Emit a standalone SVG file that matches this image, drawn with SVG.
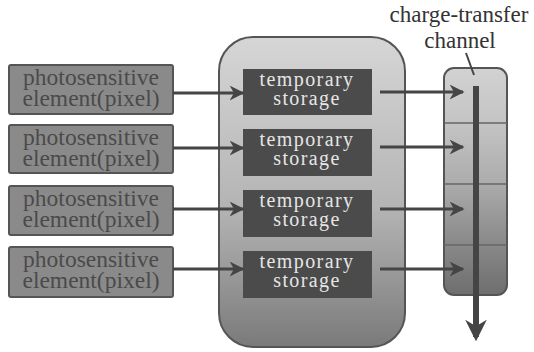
<svg xmlns="http://www.w3.org/2000/svg" width="534" height="352" viewBox="0 0 534 352">
<defs>
<linearGradient id="gBig" x1="0" y1="0" x2="0" y2="1">
<stop offset="0" stop-color="#d6d6d6"/>
<stop offset="0.55" stop-color="#b4b4b4"/>
<stop offset="0.85" stop-color="#8e8e8e"/>
<stop offset="1" stop-color="#7a7a7a"/>
</linearGradient>
<linearGradient id="gCh" x1="0" y1="0" x2="0" y2="1">
<stop offset="0" stop-color="#d2d2d2"/>
<stop offset="0.24" stop-color="#c4c4c4"/>
<stop offset="0.5" stop-color="#adadad"/>
<stop offset="0.75" stop-color="#8c8c8c"/>
<stop offset="1" stop-color="#6e6e6e"/>
</linearGradient>
<marker id="ah" viewBox="0 0 10 10" refX="9" refY="5" markerWidth="5" markerHeight="5" orient="auto" markerUnits="strokeWidth">
<path d="M0,0 L10,5 L0,10 L3,5 z" fill="#454545"/>
</marker>
<marker id="ahBig" viewBox="0 0 10 10" refX="8" refY="5" markerWidth="3.6" markerHeight="3.6" orient="auto" markerUnits="strokeWidth">
<path d="M0,0 L10,5 L0,10 L3,5 z" fill="#454545"/>
</marker>
<style>
.pix rect{fill:#8a8a8a;stroke:#555;stroke-width:2}
.pix text{font-size:23.5px;fill:#4a4a4a;text-anchor:middle}
.tmp rect{fill:#4b4b4b}
.tmp text{font-size:20px;fill:#e6e6e6;text-anchor:middle;letter-spacing:1.4px}
.conn line{stroke:#454545;stroke-width:3;marker-end:url(#ah)}
.lbl{font-size:23px;fill:#333;text-anchor:middle}
</style>
</defs>
<rect width="534" height="352" fill="#fff"/>

<g id="container">
<rect x="219" y="37" width="186" height="310" rx="34" fill="url(#gBig)" stroke="#555" stroke-width="2"/>
</g>

<g id="channel">
<rect x="444" y="68" width="63" height="227" rx="10" fill="url(#gCh)" stroke="#555" stroke-width="2"/>
<line x1="444" y1="123" x2="507" y2="123" stroke="#666" stroke-width="1.5"/>
<line x1="444" y1="184" x2="507" y2="184" stroke="#666" stroke-width="1.5"/>
<line x1="444" y1="245" x2="507" y2="245" stroke="#666" stroke-width="1.5"/>
</g>

<g font-family="'Liberation Serif', 'DejaVu Serif', serif">
<g id="pixel1" class="pix"><rect x="9" y="65" width="164" height="49" rx="2"/><text x="91" y="85">photosensitive</text><text x="91" y="106">element(pixel)</text></g>
<g id="pixel2" class="pix"><rect x="9" y="125" width="164" height="48" rx="2"/><text x="91" y="145">photosensitive</text><text x="91" y="166">element(pixel)</text></g>
<g id="pixel3" class="pix"><rect x="9" y="186" width="164" height="49" rx="2"/><text x="91" y="206">photosensitive</text><text x="91" y="227">element(pixel)</text></g>
<g id="pixel4" class="pix"><rect x="9" y="247" width="164" height="50" rx="2"/><text x="91" y="267">photosensitive</text><text x="91" y="288">element(pixel)</text></g>

<g id="storage1" class="tmp"><rect x="243" y="69" width="129" height="46"/><text x="307" y="86">temporary</text><text x="307" y="105">storage</text></g>
<g id="storage2" class="tmp"><rect x="243" y="129" width="129" height="47"/><text x="307" y="146">temporary</text><text x="307" y="165">storage</text></g>
<g id="storage3" class="tmp"><rect x="243" y="190" width="129" height="47"/><text x="307" y="207">temporary</text><text x="307" y="226">storage</text></g>
<g id="storage4" class="tmp"><rect x="243" y="251" width="129" height="47"/><text x="307" y="268">temporary</text><text x="307" y="287">storage</text></g>

<g id="label">
<text class="lbl" x="459" y="22">charge-transfer</text>
<text class="lbl" x="460" y="48">channel</text>
<line x1="466" y1="53" x2="474" y2="75" stroke="#454545" stroke-width="2"/>
</g>
</g>

<g id="connectors" class="conn">
<line x1="173" y1="93" x2="243" y2="93"/>
<line x1="173" y1="148" x2="243" y2="148"/>
<line x1="173" y1="209" x2="243" y2="209"/>
<line x1="173" y1="269" x2="243" y2="269"/>
<line x1="380" y1="92" x2="463" y2="92"/>
<line x1="380" y1="147" x2="463" y2="147"/>
<line x1="380" y1="209" x2="463" y2="209"/>
<line x1="380" y1="269" x2="463" y2="269"/>
<line x1="476" y1="86" x2="476" y2="337" style="stroke-width:6;marker-end:url(#ahBig)"/>
</g>
</svg>
